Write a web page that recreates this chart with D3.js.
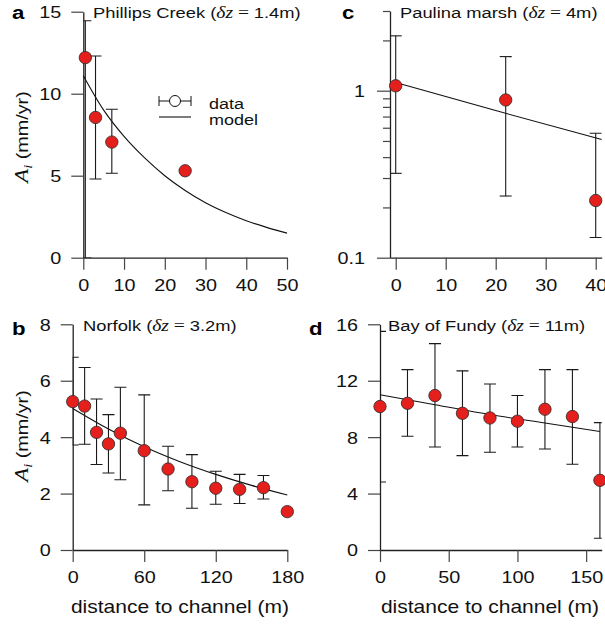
<!DOCTYPE html>
<html>
<head>
<meta charset="utf-8">
<script src="https://cdn.jsdelivr.net/npm/d3@7"></script>
<style>
  html, body { margin: 0; padding: 0; background: #fff; }
  svg { display: block; }
</style>
</head>
<body>
<svg id="chart" width="605" height="626"></svg>
<script>
// ---------------- DATA ----------------
// Panel a: Phillips Creek
const aDist = [0.5, 3, 7, 25];
const aRate = [12.2, 8.55, 7.05, 5.3];
const aLow  = [0, 4.8, 5.15, null];
const aHigh = [14.45, 12.3, 9.05, null];
const aModelDist = [0, 5, 10, 15, 20, 25, 30, 35, 40, 45, 50];
const aModelRate = [11.1, 9.0, 7.4, 6.1, 5.0, 4.1, 3.35, 2.75, 2.25, 1.85, 1.5];
const aXTicks = [0, 10, 20, 30, 40, 50];
const aYTicks = [0, 5, 10, 15];

// Panel b: Norfolk
const bDist = [0, 10, 20, 30, 40, 60, 80, 100, 120, 140, 160, 180];
const bRate = [5.26, 5.1, 4.17, 3.76, 4.14, 3.52, 2.87, 2.42, 2.19, 2.15, 2.21, 1.36];
const bLow  = [3.72, 3.75, 3.03, 2.73, 2.49, 1.6, 2.1, 1.48, 1.62, 1.65, 1.81, null];
const bHigh = [6.83, 6.47, 5.35, 4.8, 5.77, 5.5, 3.68, 3.38, 2.79, 2.68, 2.64, null];
const bModelDist = [0, 30, 60, 90, 120, 150, 180];
const bModelRate = [5.02, 4.29, 3.66, 3.13, 2.68, 2.29, 1.95];
const bXTicks = [0, 60, 120, 180];
const bYTicks = [0, 2, 4, 6, 8];

// Panel c: Paulina marsh
const cDist = [0, 22, 40];
const cRate = [1.07, 0.88, 0.22];
const cLow  = [0.32, 0.234, 0.132];
const cHigh = [2.13, 1.6, 0.556];
const cModelDist = [0, 20, 41.2];
const cModelRate = [1.12, 0.76, 0.51];
const cXTicks = [0, 10, 20, 30, 40];
const cYTicks = [0.1, 1];
const cYMinor = [0.2, 0.3, 0.4, 0.5, 0.6, 0.7, 0.8, 0.9, 2, 3];

// Panel d: Bay of Fundy
const dDist = [0, 20, 40, 60, 80, 100, 120, 140, 160];
const dRate = [10.17, 10.4, 10.95, 9.69, 9.36, 9.13, 9.98, 9.46, 4.94];
const dLow  = [4.82, 8.06, 7.3, 6.69, 6.93, 7.3, 7.16, 6.08, 0.83];
const dHigh = [15.5, 12.79, 14.63, 12.7, 11.77, 10.95, 12.79, 12.79, 9.03];
const dModelDist = [0, 40, 80, 120, 160];
const dModelRate = [11.0, 10.3, 9.6, 9.0, 8.4];
const dXTicks = [0, 50, 100, 150];
const dYTicks = [0, 4, 8, 12, 16];

// ---------------- DRAWING ----------------
const SANS = "'Liberation Sans', Arial, Helvetica, sans-serif";
const SERIF = "'Liberation Serif', 'DejaVu Serif', serif";
const SX = 1.2; // horizontal text stretch seen in the reference
const RED = "#e41f1c";
const svg = d3.select("#chart");

function panel(cfg) {
  const x = cfg.x, y = cfg.y;
  const x0 = x.range()[0], x1 = x.range()[1];
  const yb = y.range()[0], yt = y.range()[1];
  const g = svg.append("g");
  const clipId = "clip" + cfg.id;
  svg.append("clipPath").attr("id", clipId).append("rect")
    .attr("x", x0).attr("y", yt - 20).attr("width", x1 - x0).attr("height", yb - yt + 20);

  // axes
  const gx = g.append("g").attr("transform", `translate(0,${yb})`)
    .call(d3.axisBottom(x).tickValues(cfg.xt).tickSize(12).tickSizeOuter(0).tickFormat(d3.format("d")));
  const gy = g.append("g").attr("transform", `translate(${x0},0)`)
    .call(d3.axisLeft(y).tickValues(cfg.yt).tickSize(cfg.minor ? 13 : 12).tickSizeOuter(0)
      .tickFormat(cfg.yfmt || d3.format("d")));
  [gx, gy].forEach(ax => {
    ax.select(".domain").attr("stroke", "#222").attr("stroke-width", 1.3);
    ax.selectAll(".tick line").attr("stroke", "#444").attr("stroke-width", 1.2);
    ax.selectAll("text").attr("fill", "#111").attr("font-family", SANS).attr("font-size", 16.5);
  });
  gx.selectAll("text").attr("y", 33).attr("dy", null)
    .attr("transform", `scale(${SX},1)`);
  gy.selectAll("text").attr("x", null).attr("dy", "0.36em")
    .attr("transform", `translate(${cfg.ylabOff || -22},0) scale(${SX},1)`);
  if (cfg.minor) {
    const gm = g.append("g").attr("transform", `translate(${x0},0)`)
      .call(d3.axisLeft(y).tickValues(cfg.minor).tickSize(7).tickSizeOuter(0).tickFormat(""));
    gm.select(".domain").remove();
    gm.selectAll(".tick line").attr("stroke", "#444").attr("stroke-width", 1.2);
  }

  // model line
  const line = d3.line().x(d => x(d[0])).y(d => y(d[1]))
    .curve(cfg.linear ? d3.curveLinear : d3.curveMonotoneX);
  g.append("path").datum(d3.zip(cfg.md, cfg.mr))
    .attr("d", line).attr("fill", "none").attr("stroke", "#111").attr("stroke-width", 1.1);

  // error bars
  const eb = g.append("g").attr("clip-path", `url(#${clipId})`)
    .attr("stroke", "#1a1a1a").attr("stroke-width", 1.1);
  const idx = d3.range(cfg.d.length).filter(i => cfg.lo[i] != null);
  const cap = 6;
  eb.selectAll("line.v").data(idx).join("line")
    .attr("x1", i => x(cfg.d[i])).attr("x2", i => x(cfg.d[i]))
    .attr("y1", i => y(cfg.lo[i])).attr("y2", i => y(cfg.hi[i]));
  eb.selectAll("line.t").data(idx).join("line")
    .attr("x1", i => x(cfg.d[i]) - cap).attr("x2", i => x(cfg.d[i]) + cap)
    .attr("y1", i => y(cfg.hi[i])).attr("y2", i => y(cfg.hi[i]));
  eb.selectAll("line.b").data(idx).join("line")
    .attr("x1", i => x(cfg.d[i]) - cap).attr("x2", i => x(cfg.d[i]) + cap)
    .attr("y1", i => y(cfg.lo[i])).attr("y2", i => y(cfg.lo[i]));

  // points
  g.selectAll("circle.pt").data(d3.range(cfg.d.length)).join("circle")
    .attr("cx", i => x(cfg.d[i])).attr("cy", i => y(cfg.r[i])).attr("r", 6.2)
    .attr("fill", RED).attr("stroke", "#2a2a2a").attr("stroke-width", 0.8);

  // panel letter
  svg.append("text").attr("transform", `translate(${cfg.letterPos[0]},${cfg.letterPos[1]}) scale(${SX},1)`)
    .attr("font-family", SANS).attr("font-weight", "bold").attr("font-size", 18.5).text(cfg.letter);

  // title
  const t = svg.append("text").attr("transform", `translate(${cfg.titlePos[0]},${cfg.titlePos[1]}) scale(${SX},1)`)
    .attr("font-family", SANS).attr("font-size", 15.3).attr("fill", "#111");
  t.append("tspan").text(cfg.name + " (");
  t.append("tspan").attr("font-family", SERIF).attr("font-style", "italic").attr("font-size", 16.3).text("δz");
  t.append("tspan").attr("font-family", SERIF).attr("font-size", 16.3).text(" = ");
  t.append("tspan").text(cfg.dz + "m)");
}

panel({ id: "a", letter: "a", letterPos: [12, 19], name: "Phillips Creek", dz: "1.4", titlePos: [93, 18],
  x: d3.scaleLinear().domain([0, 50]).range([83.3, 287]),
  y: d3.scaleLinear().domain([0, 15]).range([257.7, 11.7]),
  xt: aXTicks, yt: aYTicks, d: aDist, r: aRate, lo: aLow, hi: aHigh, md: aModelDist, mr: aModelRate });

panel({ id: "b", letter: "b", letterPos: [12, 335], name: "Norfolk", dz: "3.2", titlePos: [83, 331],
  x: d3.scaleLinear().domain([0, 180]).range([72.7, 287.3]),
  y: d3.scaleLinear().domain([0, 8]).range([550, 324.3]),
  xt: bXTicks, yt: bYTicks, d: bDist, r: bRate, lo: bLow, hi: bHigh, md: bModelDist, mr: bModelRate });

panel({ id: "c", letter: "c", letterPos: [342, 19], name: "Paulina marsh", dz: "4", titlePos: [400, 18],
  x: d3.scaleLinear().domain([-1.14, 41.2]).range([390, 601.7]),
  y: d3.scaleLog().domain([0.1, 3]).range([257.7, 11.0]),
  xt: cXTicks, yt: cYTicks, minor: cYMinor, yfmt: d => (d === 1 ? "1" : "0.1"), ylabOff: -25, linear: true,
  d: cDist, r: cRate, lo: cLow, hi: cHigh, md: cModelDist, mr: cModelRate });

panel({ id: "d", letter: "d", letterPos: [309, 335], name: "Bay of Fundy", dz: "11", titlePos: [388, 331],
  x: d3.scaleLinear().domain([0, 161.3]).range([380, 601.7]),
  y: d3.scaleLinear().domain([0, 16]).range([550, 324.3]),
  xt: dXTicks, yt: dYTicks, d: dDist, r: dRate, lo: dLow, hi: dHigh, md: dModelDist, mr: dModelRate });

// y-axis labels
function ylabel(cx, cy) {
  const t = svg.append("text").attr("transform", `translate(${cx},${cy}) rotate(-90) scale(${SX},1)`)
    .attr("text-anchor", "middle").attr("fill", "#111");
  t.append("tspan").attr("font-family", SERIF).attr("font-style", "italic").attr("font-size", 19).text("A");
  t.append("tspan").attr("font-family", SERIF).attr("font-style", "italic").attr("font-size", 12).attr("dy", 4).text("i");
  t.append("tspan").attr("font-family", SANS).attr("font-size", 16.5).attr("dy", -4).text(" (mm/yr)");
}
ylabel(28, 137);
ylabel(28, 436);

// x-axis labels
[[180, 613], [490, 613]].forEach(p => {
  svg.append("text").attr("transform", `translate(${p[0]},${p[1]}) scale(${SX},1)`)
    .attr("text-anchor", "middle").attr("font-family", SANS).attr("font-size", 17.5).attr("fill", "#111")
    .text("distance to channel (m)");
});

// legend (panel a)
const leg = svg.append("g");
leg.append("line").attr("x1", 159).attr("x2", 191).attr("y1", 101).attr("y2", 101).attr("stroke", "#111");
leg.append("line").attr("x1", 159).attr("x2", 159).attr("y1", 96).attr("y2", 106).attr("stroke", "#111");
leg.append("line").attr("x1", 191).attr("x2", 191).attr("y1", 96).attr("y2", 106).attr("stroke", "#111");
leg.append("circle").attr("cx", 175).attr("cy", 101).attr("r", 5.5).attr("fill", "#fff").attr("stroke", "#111");
leg.append("line").attr("x1", 159).attr("x2", 191).attr("y1", 117).attr("y2", 117).attr("stroke", "#111").attr("stroke-width", 1.1);
leg.append("text").attr("transform", `translate(209,109) scale(${SX},1)`).attr("font-family", SANS).attr("font-size", 15).attr("fill", "#111").text("data");
leg.append("text").attr("transform", `translate(209,125) scale(${SX},1)`).attr("font-family", SANS).attr("font-size", 15).attr("fill", "#111").text("model");
</script>
</body>
</html>
